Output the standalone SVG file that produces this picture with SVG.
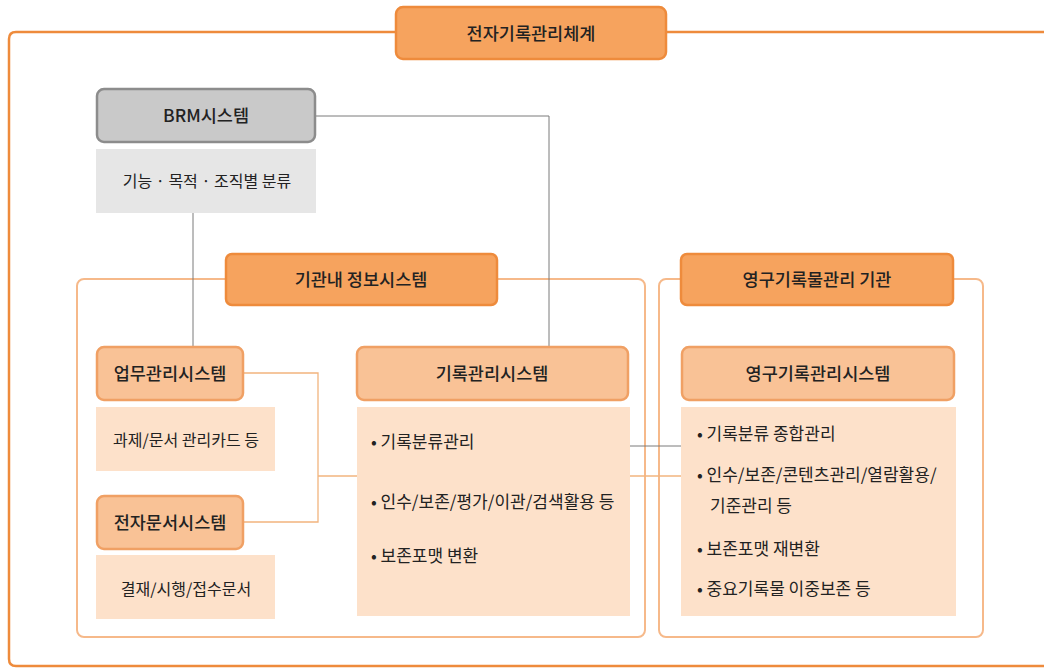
<svg xmlns="http://www.w3.org/2000/svg" width="1044" height="668" viewBox="0 0 1044 668">
<style>
text{font-family:"Noto Sans CJK KR","Noto Sans",sans-serif;fill:#222;}
.t{font-size:17.5px;text-anchor:middle;font-weight:500;}
.s{font-size:16px;text-anchor:middle;}
.c{font-size:17px;}
.hdr{fill:#f6a35e;stroke:#ee8b3c;stroke-width:2.5;}
.sys{fill:#f9c296;stroke:#f0a064;stroke-width:2.5;}
.sub{fill:#fde1ca;}
.grp{fill:none;stroke:#f6b98a;stroke-width:2;}
.lo{fill:none;stroke:#f2b47e;stroke-width:1.3;}
.lg{fill:none;stroke:#7a7a7a;stroke-width:1;}
</style>
<rect width="1044" height="668" fill="#ffffff"/>
<g id="frame">
<path d="M1050 32 H16 Q9 32 9 39 V659 Q9 666 16 666 H1050" fill="none" stroke="#ee8b3c" stroke-width="2.5"/>
</g>
<g id="groups">
<rect class="grp" x="77" y="279" width="568" height="358" rx="7"/>
<rect class="grp" x="659" y="279" width="324" height="358" rx="7"/>
</g>
<g id="connectors">
<polyline class="lg" points="315,116 549,116 549,347"/>
<polyline class="lg" points="193,213 193,347"/>
<polyline class="lo" points="243,373 318,373 318,522 243,522"/>
<polyline class="lo" points="318,476 357,476"/>
<polyline class="lg" points="630,446 683,446"/>
<polyline class="lo" points="630,476 683,476"/>
</g>
<g id="title">
<rect class="hdr" x="396" y="7" width="270" height="52" rx="7"/>
<text class="t" x="531" y="40">전자기록관리체계</text>
</g>
<g id="brm">
<rect x="97" y="89" width="218" height="53" rx="7" fill="#c9c9c9" stroke="#8c8c8c" stroke-width="2.5"/>
<text class="t" x="206" y="122">BRM시스템</text>
</g>
<g id="brm-sub">
<rect x="96" y="149" width="220" height="64" fill="#e6e6e6"/>
<text class="s" x="207" y="187">기능 · 목적 · 조직별 분류</text>
</g>
<g id="group1-header">
<rect class="hdr" x="226" y="254" width="271" height="51" rx="6"/>
<text class="t" x="361" y="286">기관내 정보시스템</text>
</g>
<g id="group2-header">
<rect class="hdr" x="681" y="254" width="272" height="51" rx="6"/>
<text class="t" x="817" y="286">영구기록물관리 기관</text>
</g>
<g id="work-system">
<rect class="sys" x="97" y="347" width="146" height="53" rx="7"/>
<text class="t" x="170" y="380">업무관리시스템</text>
</g>
<g id="work-sub">
<rect class="sub" x="96" y="407" width="179" height="64"/>
<text class="s" x="186" y="446">과제/문서 관리카드 등</text>
</g>
<g id="edoc-system">
<rect class="sys" x="97" y="496" width="146" height="53" rx="7"/>
<text class="t" x="170" y="529">전자문서시스템</text>
</g>
<g id="edoc-sub">
<rect class="sub" x="96" y="555" width="179" height="64"/>
<text class="s" x="186" y="595">결재/시행/접수문서</text>
</g>
<g id="records-system">
<rect class="sys" x="357" y="347" width="271" height="53" rx="7"/>
<text class="t" x="492" y="380">기록관리시스템</text>
</g>
<g id="records-sub">
<rect class="sub" x="357" y="407" width="273" height="209"/>
<text class="c" x="371" y="448">• 기록분류관리</text>
<text class="c" x="371" y="508">• 인수/보존/평가/이관/검색활용  등</text>
<text class="c" x="371" y="562">• 보존포맷 변환</text>
</g>
<g id="archive-system">
<rect class="sys" x="682" y="347" width="272" height="53" rx="7"/>
<text class="t" x="818" y="380">영구기록관리시스템</text>
</g>
<g id="archive-sub">
<rect class="sub" x="681" y="407" width="275" height="209"/>
<text class="c" x="697" y="440">• 기록분류 종합관리</text>
<text class="c" x="697" y="481">• 인수/보존/콘텐츠관리/열람활용/</text>
<text class="c" x="710" y="512">기준관리 등</text>
<text class="c" x="697" y="555">• 보존포맷 재변환</text>
<text class="c" x="697" y="595">• 중요기록물 이중보존 등</text>
</g>
</svg>
